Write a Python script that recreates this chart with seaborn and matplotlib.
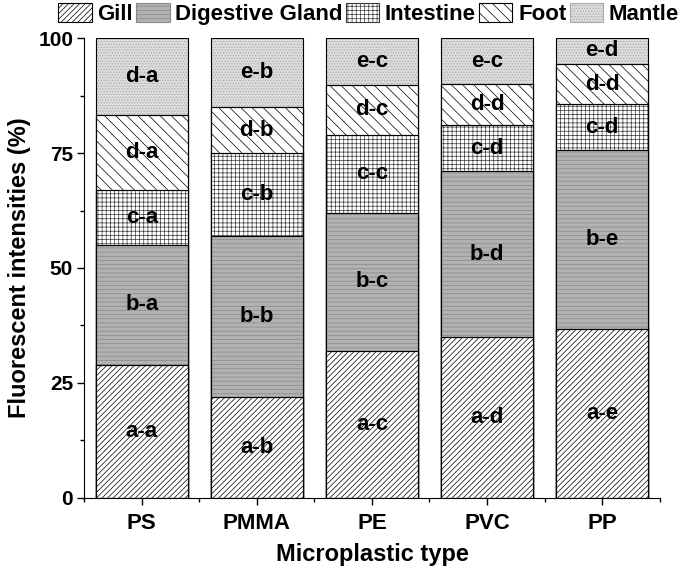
import matplotlib
matplotlib.use('Agg')
import matplotlib.pyplot as plt
import matplotlib.patches as mpatches
from matplotlib.ticker import MultipleLocator
import seaborn as sns
import numpy as np
import pandas as pd

# data (percent of total fluorescence per tissue)
types = ['PS', 'PMMA', 'PE', 'PVC', 'PP']
tissues = ['Gill', 'Digestive Gland', 'Intestine', 'Foot', 'Mantle']
gill = [29.0, 22.0, 32.0, 35.0, 36.8]
digestive = [26.0, 35.0, 30.0, 36.0, 38.8]
intestine = [12.0, 18.0, 17.0, 10.2, 10.0]
foot = [16.3, 10.0, 10.8, 8.8, 8.8]
mantle = [16.7, 15.0, 10.2, 10.0, 5.6]
labels = {
    'Gill': ['a-a', 'a-b', 'a-c', 'a-d', 'a-e'],
    'Digestive Gland': ['b-a', 'b-b', 'b-c', 'b-d', 'b-e'],
    'Intestine': ['c-a', 'c-b', 'c-c', 'c-d', 'c-d'],
    'Foot': ['d-a', 'd-b', 'd-c', 'd-d', 'd-d'],
    'Mantle': ['d-a', 'e-b', 'e-c', 'e-c', 'e-d'],
}

df = pd.DataFrame({'Gill': gill, 'Digestive Gland': digestive, 'Intestine': intestine,
                   'Foot': foot, 'Mantle': mantle}, index=types)
cum = df.cumsum(axis=1)
bottoms = cum - df

sns.set_style('ticks')
plt.rcParams['font.family'] = ['Liberation Sans', 'DejaVu Sans']
plt.rcParams['font.weight'] = 'bold'
plt.rcParams['hatch.linewidth'] = 0.5
for k in ['text.color', 'axes.labelcolor', 'xtick.color', 'ytick.color', 'axes.edgecolor']:
    plt.rcParams[k] = 'black'

styles = {
    'Gill': dict(face='white', edge='black', hatch='//////'),
    'Digestive Gland': dict(face='#b2b2b2', edge='#888888', hatch='----'),
    'Intestine': dict(face='white', edge='#3a3a3a', hatch='++++'),
    'Foot': dict(face='white', edge='black', hatch='\\\\\\'),
    'Mantle': dict(face='#dcdcdc', edge='#a8a8a8', hatch='......'),
}

fig = plt.figure(figsize=(6.85, 5.69), dpi=100)
ax = fig.add_axes([0.123, 0.125, 0.840, 0.808])

# draw the tallest cumulative layer first, smaller ones overlap it
for t in tissues[::-1]:
    s = styles[t]
    sns.barplot(x=types, y=cum[t].values, color=s['face'], saturation=1,
                edgecolor=s['edge'], hatch=s['hatch'], linewidth=0.8,
                width=0.8, ax=ax)
    sns.barplot(x=types, y=cum[t].values, fill=False, color='black',
                linewidth=0.8, width=0.8, ax=ax)

for t in tissues:
    for i, lab in enumerate(labels[t]):
        y = bottoms[t].iloc[i] + df[t].iloc[i] / 2
        ax.text(i, y, lab, ha='center', va='center', fontsize=16, fontweight='bold')

ax.set_xlim(-0.5, 4.5)
ax.set_ylim(0, 100)
ax.set_yticks([0, 25, 50, 75, 100])
ax.yaxis.set_minor_locator(MultipleLocator(12.5))
ax.set_xticks(range(len(types)))
ax.set_xticks(np.arange(-0.5, 5, 1), minor=True)
ax.set_xticklabels(types)
ax.tick_params(axis='both', which='major', length=5, width=1, direction='out')
ax.tick_params(axis='both', which='minor', length=3, width=1, direction='out')
ax.tick_params(axis='x', pad=6, labelsize=16)
ax.tick_params(axis='y', pad=3, labelsize=15)
for lab in ax.get_xticklabels() + ax.get_yticklabels():
    lab.set_fontweight('bold')
sns.despine(ax=ax)

ax.set_xlabel('Microplastic type', fontsize=17, fontweight='bold')
ax.set_ylabel('Fluorescent intensities (%)', fontsize=17, fontweight='bold')
ax.xaxis.set_label_coords(0.5, -0.098)
ax.yaxis.set_label_coords(-0.092, 0.5)

handles = [mpatches.Patch(facecolor=styles[t]['face'], edgecolor=styles[t]['edge'],
                          hatch=styles[t]['hatch'], label=t, linewidth=0.8) for t in tissues]
leg = fig.legend(handles=handles, ncol=5, loc='upper center', bbox_to_anchor=(0.538, 0.998),
                 frameon=False, prop={'weight': 'bold', 'size': 16},
                 handlelength=1.5, handleheight=0.9, handletextpad=0.25,
                 columnspacing=0.15, borderaxespad=0.0, borderpad=0.1)

fig.savefig('out.png', dpi=100)
